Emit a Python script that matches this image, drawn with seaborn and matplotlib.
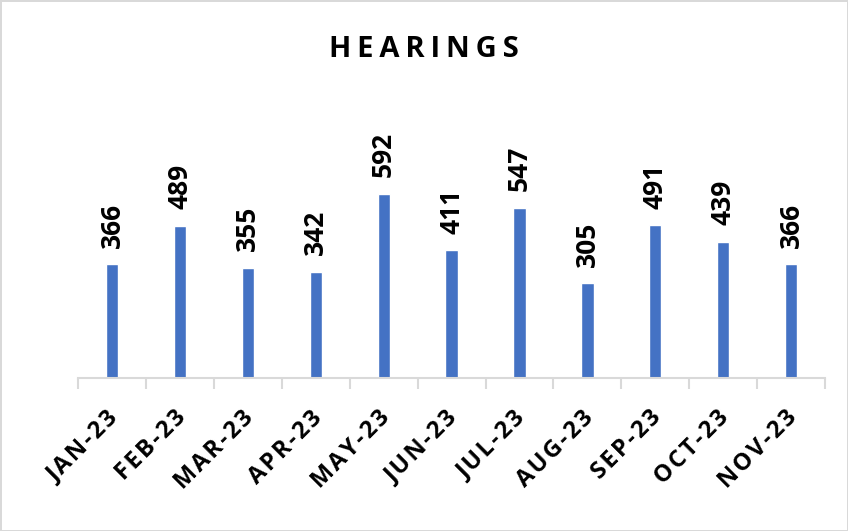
import matplotlib
matplotlib.use('Agg')
import matplotlib.pyplot as plt
import matplotlib.transforms as mtransforms
import seaborn as sns
import pandas as pd
import numpy as np

months = ['JAN-23', 'FEB-23', 'MAR-23', 'APR-23', 'MAY-23', 'JUN-23',
          'JUL-23', 'AUG-23', 'SEP-23', 'OCT-23', 'NOV-23']
hearings = [366, 489, 355, 342, 592, 411, 547, 305, 491, 439, 366]

df = pd.DataFrame({'Month': months, 'Hearings': hearings})

sns.set_style('white')
plt.rcParams['font.family'] = ['Open Sans', 'DejaVu Sans']
plt.rcParams['text.color'] = 'black'
plt.rcParams['xtick.color'] = 'black'

fig = plt.figure(figsize=(8.48, 5.31), dpi=100)
ax = fig.add_axes([0.092, 0.288, 0.881, 0.41])

sns.barplot(data=df, x='Month', y='Hearings', color='#4472C4',
            width=0.18, saturation=1, ax=ax)

ax.set_ylim(0, 700)
ax.set_xlim(-0.5, len(months) - 0.5)
ax.set_xlabel('')
ax.set_ylabel('')
ax.set_yticks([])

for s in ['top', 'right', 'left']:
    ax.spines[s].set_visible(False)
ax.spines['bottom'].set_color('#d9d9d9')
ax.spines['bottom'].set_linewidth(1.5)

# value labels above bars
for i, v in enumerate(hearings):
    ax.annotate(str(v), (i, v), xytext=(0, 12), textcoords='offset points',
                rotation=90, ha='center', va='bottom', fontsize=19,
                fontweight='bold', color='black', clip_on=False)

# category labels, ticks at boundaries
ax.set_xticks(range(len(months)))
labels = ['\u200a'.join(m) for m in months]
ax.set_xticklabels(labels, rotation=45, ha='right', rotation_mode='anchor',
                   fontsize=17, fontweight='bold', color='black')
ax.tick_params(axis='x', which='major', length=0, pad=20)
shift = mtransforms.ScaledTranslation(-6 / 100, 0, fig.dpi_scale_trans)
for lbl in ax.get_xticklabels():
    lbl.set_transform(lbl.get_transform() + shift)
ax.set_xticks(np.arange(-0.5, len(months)), minor=True)
ax.tick_params(axis='x', which='minor', length=8, width=1.5, color='#d9d9d9',
               bottom=True)

fig.text(0.5, 0.906, '\u2009'.join('HEARINGS'), ha='center',
         va='center', fontsize=21, fontweight='bold', color='black')

fig.patch.set_edgecolor('#d9d9d9')
fig.patch.set_linewidth(2)

fig.savefig('out.png', dpi=100)
